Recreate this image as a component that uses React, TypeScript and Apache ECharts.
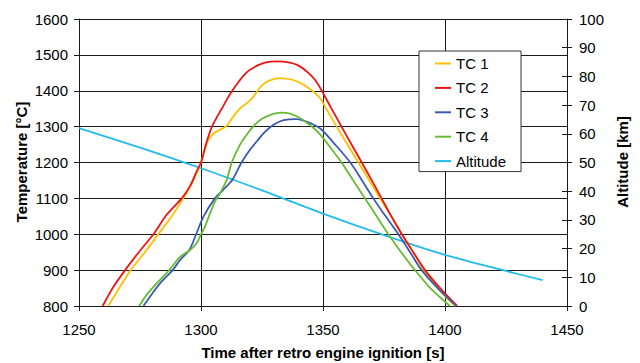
import React, { useEffect, useRef } from "react";
import * as echarts from "echarts";

const seriesNames = ["TC 1", "TC 2", "TC 3", "TC 4", "Altitude"];
const seriesColors = ["#FFC000", "#F01414", "#3A5BAE", "#66BB33", "#22BBEE"];

const tc1Time = [1262, 1266.5, 1271.2, 1277, 1282.5, 1288, 1292.7, 1296.5, 1300, 1302, 1303.5, 1305.5, 1308, 1310.5, 1313.2, 1316, 1319.4, 1321.4, 1324.2, 1326.9, 1329.5, 1332.4, 1335, 1337.8, 1341, 1344, 1346, 1348.8, 1352, 1355.6, 1360, 1364.5, 1369, 1373.4, 1378, 1382.3, 1387, 1391.4, 1397, 1404.1];
const tc1Temp = [800, 850, 900, 950, 1000, 1050, 1100, 1145, 1200, 1245, 1268, 1283, 1292, 1302, 1328, 1351, 1369, 1383, 1409, 1425, 1432, 1435, 1434, 1430, 1421, 1408, 1398, 1379, 1342, 1300, 1250, 1200, 1150, 1100, 1050, 1000, 950, 900, 850, 800];

const tc2Time = [1259.7, 1264, 1268.9, 1274.5, 1280.5, 1286, 1292.1, 1295.5, 1298.2, 1300, 1302, 1304.5, 1308.5, 1312.8, 1318.5, 1323, 1327, 1331, 1336, 1340, 1344, 1347, 1349.5, 1353.5, 1357.6, 1361.7, 1365.9, 1370, 1374, 1378, 1382.3, 1387, 1391.8, 1398, 1405];
const tc2Temp = [800, 852, 900, 950, 1000, 1055, 1100, 1134, 1175, 1200, 1250, 1300, 1350, 1400, 1450, 1470, 1480, 1482, 1479, 1470, 1450, 1428, 1400, 1350, 1300, 1250, 1200, 1150, 1100, 1050, 1000, 950, 900, 850, 800];

const tc3Time = [1276.4, 1279.1, 1283.2, 1288.4, 1291.4, 1295.2, 1298, 1301, 1305.7, 1309, 1312.8, 1316.6, 1320, 1323, 1326, 1329, 1332.5, 1336, 1339, 1342, 1345, 1349, 1355, 1361.2, 1366, 1370.6, 1375.7, 1380.9, 1385.7, 1390.4, 1397, 1404.7];
const tc3Temp = [800, 826, 863, 900, 928, 956, 1000, 1049, 1100, 1123, 1151, 1200, 1235, 1260, 1284, 1302, 1315, 1320, 1321, 1317, 1309, 1294, 1250, 1200, 1150, 1100, 1050, 1000, 950, 900, 850, 800];

const tc4Time = [1274.7, 1277.7, 1281.8, 1287, 1291.4, 1295.5, 1298.2, 1300, 1301.6, 1303.7, 1305.7, 1307.5, 1310.5, 1312.6, 1316, 1319, 1322, 1325, 1328.5, 1333, 1336.5, 1340, 1343, 1346, 1349, 1353, 1357.6, 1362.4, 1367.2, 1372, 1376.8, 1382, 1387.7, 1394, 1402];
const tc4Temp = [800, 831, 863, 900, 937, 956, 975, 1000, 1021, 1058, 1091, 1110, 1151, 1200, 1250, 1280, 1305, 1322, 1333, 1339, 1336, 1326, 1313, 1297, 1277, 1242, 1200, 1150, 1100, 1050, 1000, 950, 900, 850, 800];

const altTime = [1250, 1275, 1300, 1325, 1350, 1375, 1400, 1425, 1440];
const altKm = [62, 55.2, 48, 40.3, 32.2, 24.7, 17.8, 12.2, 9];

const xTitle = "Time after retro engine ignition [s]";
const yLeftTitle = "Temperature [°C]";
const yRightTitle = "Altitude [km]";

const FONT = "'Liberation Sans', Arial, sans-serif";

function pairs(t: number[], v: number[]) {
  return t.map((x, i) => [x, v[i]]);
}

const plain = (v: number) => String(v);

export default function App() {
  const ref = useRef<HTMLDivElement>(null);
  useEffect(() => {
    if (!ref.current) return;
    const chart = echarts.init(ref.current, undefined, { renderer: "svg" });
    const tcData = [
      pairs(tc1Time, tc1Temp),
      pairs(tc2Time, tc2Temp),
      pairs(tc3Time, tc3Temp),
      pairs(tc4Time, tc4Temp),
    ];
    const series: any[] = tcData.map((d, i) => ({
      name: seriesNames[i],
      type: "line",
      data: d,
      yAxisIndex: 0,
      showSymbol: false,
      symbol: "none",
      smooth: 0.3,
      lineStyle: { color: seriesColors[i], width: 1.8 },
      itemStyle: { color: seriesColors[i] },
      z: 3,
    }));
    series.push({
      name: seriesNames[4],
      type: "line",
      data: pairs(altTime, altKm),
      yAxisIndex: 1,
      showSymbol: false,
      symbol: "none",
      smooth: 0.3,
      lineStyle: { color: seriesColors[4], width: 1.8 },
      itemStyle: { color: seriesColors[4] },
      z: 2,
    });
    const lineColor = "#1a1a1a";
    chart.setOption({
      animation: false,
      backgroundColor: "#ffffff",
      textStyle: { fontFamily: FONT },
      grid: { left: 79, right: 73, top: 19, bottom: 57, containLabel: false },
      legend: {
        orient: "vertical",
        left: 419,
        top: 51,
        icon: "rect",
        itemWidth: 16,
        itemHeight: 2,
        itemGap: 9.4,
        padding: [5, 15, 3, 16],
        backgroundColor: "#ffffff",
        borderColor: "#333333",
        borderWidth: 1,
        borderRadius: 0,
        textStyle: { fontSize: 15, color: "#000", fontFamily: FONT },
        data: seriesNames,
        z: 10,
      },
      xAxis: {
        type: "value",
        min: 1250,
        max: 1450,
        interval: 50,
        axisLine: { show: true, onZero: false, lineStyle: { color: lineColor, width: 1 } },
        axisTick: { show: true, length: 5, lineStyle: { color: lineColor } },
        axisLabel: { fontSize: 15, color: "#000", margin: 16, fontFamily: FONT, formatter: plain },
        splitLine: { show: true, lineStyle: { color: lineColor, width: 1 } },
      },
      yAxis: [
        {
          type: "value",
          position: "left",
          min: 800,
          max: 1600,
          interval: 100,
          axisLine: { show: true, lineStyle: { color: lineColor, width: 1 } },
          axisTick: { show: true, length: 5, lineStyle: { color: lineColor } },
          axisLabel: { fontSize: 15, color: "#000", margin: 11, fontFamily: FONT, formatter: plain },
          splitLine: { show: true, lineStyle: { color: lineColor, width: 1 } },
        },
        {
          type: "value",
          position: "right",
          min: 0,
          max: 100,
          interval: 10,
          axisLine: { show: true, lineStyle: { color: lineColor, width: 1 } },
          axisTick: { show: true, length: 5, lineStyle: { color: lineColor } },
          axisLabel: { fontSize: 15, color: "#000", margin: 12, fontFamily: FONT, formatter: plain },
          splitLine: { show: false },
        },
        {
          type: "value",
          position: "right",
          min: 0,
          max: 100,
          interval: 10,
          axisLine: { show: false },
          axisTick: { show: true, inside: true, length: 5, lineStyle: { color: lineColor } },
          axisLabel: { show: false },
          splitLine: { show: false },
        },
      ],
      graphic: [
        {
          type: "text",
          x: 323,
          y: 352,
          style: {
            text: xTitle,
            font: `bold 15px ${FONT}`,
            fill: "#000",
            textAlign: "center",
            textVerticalAlign: "middle",
            align: "center",
            verticalAlign: "middle",
          },
        },
        {
          type: "text",
          x: 21,
          y: 162,
          rotation: Math.PI / 2,
          style: {
            text: yLeftTitle,
            font: `bold 15px ${FONT}`,
            fill: "#000",
            textAlign: "center",
            textVerticalAlign: "middle",
            align: "center",
            verticalAlign: "middle",
          },
        },
        {
          type: "text",
          x: 622,
          y: 162,
          rotation: Math.PI / 2,
          style: {
            text: yRightTitle,
            font: `bold 15px ${FONT}`,
            fill: "#000",
            textAlign: "center",
            textVerticalAlign: "middle",
            align: "center",
            verticalAlign: "middle",
          },
        },
      ],
      series,
    });
    return () => chart.dispose();
  }, []);
  return (
    <div
      ref={ref}
      style={{ position: "fixed", left: 0, top: 0, width: 640, height: 363, background: "#fff" }}
    />
  );
}
